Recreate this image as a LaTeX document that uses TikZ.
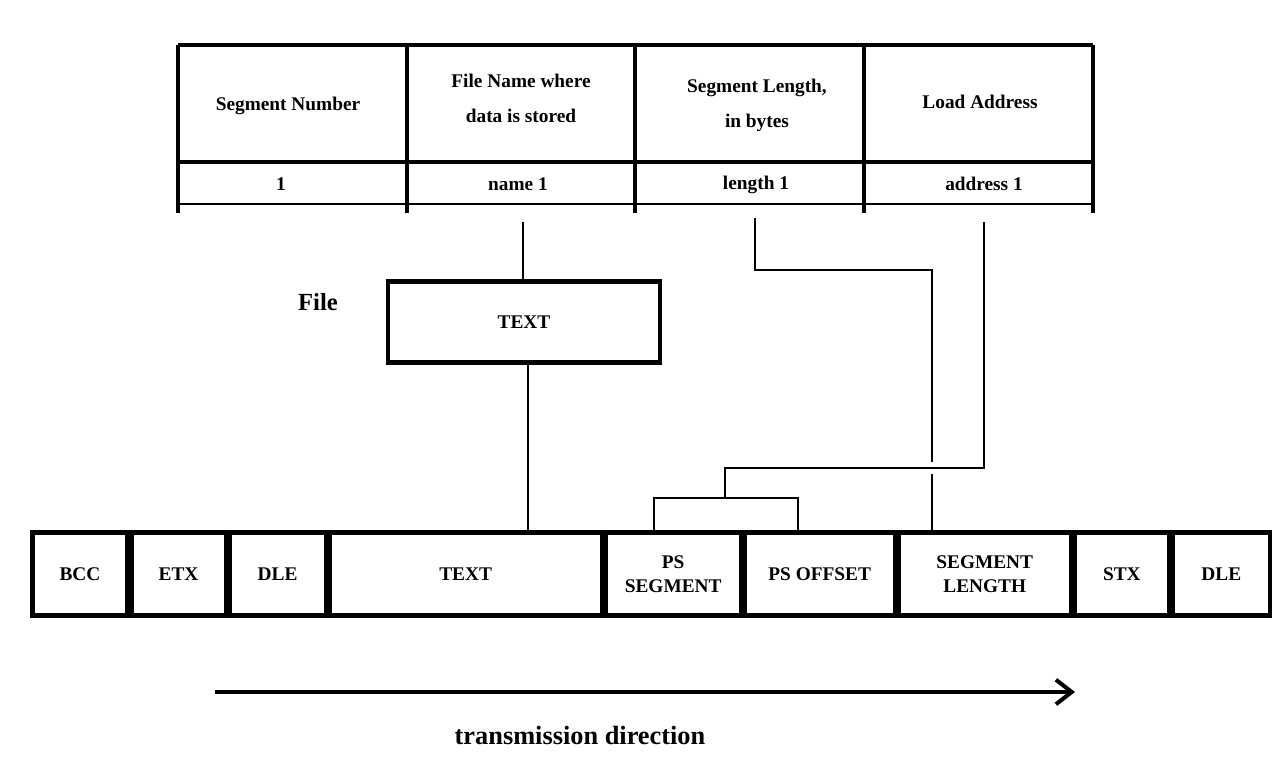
\documentclass[tikz,border=0pt]{standalone}
\usepackage{fontspec}
\setmainfont{Liberation Serif}
\usetikzlibrary{arrows.meta}

\begin{document}
\begin{tikzpicture}[x=0.02cm, y=-0.02cm, font=\bfseries\fontsize{11}{14}\selectfont,
  hd/.style={align=center, inner sep=0pt},
  cell/.style={draw, line width=2.3pt, minimum height=83*0.02cm, inner sep=0pt, align=center},
  ln/.style={line width=1.5pt},
  thk/.style={line width=2pt}]
  \useasboundingbox (0,0) rectangle (1274,773);
  % upper table
  \draw[thk] (178,45) -- (1093,45);
  \draw[thk] (178,162) -- (1093,162);
  \draw[line width=0.6pt] (178,204) -- (1093,204);
  \foreach \x in {178,407,635,864,1093}
    \draw[thk] (\x,45) -- (\x,213);
  \node[hd] (hnum) at (288,106) {Segment Number};
  \node[hd] (hname) at (521,98) {File Name where\\[6pt]data is stored};
  \node[hd] (hlen) at (757,105) {Segment Length,\\[6pt]in bytes};
  \node[hd] (hadr) at (980,102) {Load Address};
  \node[hd] (vnum) at (281,184) {1};
  \node[hd] (vname) at (518,184) {name 1};
  \node[hd] (vlen) at (756,185) {length 1};
  \node[hd] (vadr) at (984,184) {address 1};
  % file
  \node[font=\bfseries\fontsize{14}{16}\selectfont] (file) at (318,302) {File};
  \node[draw, line width=2.3pt, minimum width=272*0.02cm, minimum height=81*0.02cm] (ftext) at (524,322) {TEXT};
  % frame
  \node[cell, minimum width=95*0.02cm] (bcc) at (80,574) {BCC};
  \node[cell, minimum width=94*0.02cm, anchor=west] (etx) at (bcc.east) {ETX};
  \node[cell, minimum width=96*0.02cm, anchor=west] (dle1) at (etx.east) {DLE};
  \node[cell, minimum width=272*0.02cm, anchor=west] (text) at (dle1.east) {TEXT};
  \node[cell, minimum width=135*0.02cm, anchor=west] (pseg) at (text.east) {PS\\SEGMENT};
  \node[cell, minimum width=150*0.02cm, anchor=west] (poff) at (pseg.east) {PS OFFSET};
  \node[cell, minimum width=172*0.02cm, anchor=west] (slen) at (poff.east) {SEGMENT\\LENGTH};
  \node[cell, minimum width=94*0.02cm, anchor=west] (stx) at (slen.east) {STX};
  \node[cell, minimum width=97*0.02cm, anchor=west] (dle2) at (stx.east) {DLE};
  % connectors
  \coordinate (nm) at (523,222);
  \coordinate (ln) at (755,218);
  \coordinate (ad) at (984,222);
  \draw[ln] (nm) -- (nm |- ftext.north);
  \draw[ln] (528,362) -- (528,532);
  \draw[ln] (ln) |- (932,270) -- (932,462);
  \draw[ln] (932,474) -- (932,532);
  \draw[ln] (ad) |- (725,468) -- (725,498);
  \draw[ln] (654,532) |- (798,498) -- (798,532);
  % direction
  \coordinate (a0) at (215,692);
  \coordinate (a1) at (1075,692);
  \draw[line width=2.3pt, -{Straight Barb[length=9pt,width=14pt]}] (a0) -- (a1);
  \node[font=\bfseries\fontsize{15}{18}\selectfont] (dir) at (580,735) {transmission direction};
\end{tikzpicture}
\end{document}
